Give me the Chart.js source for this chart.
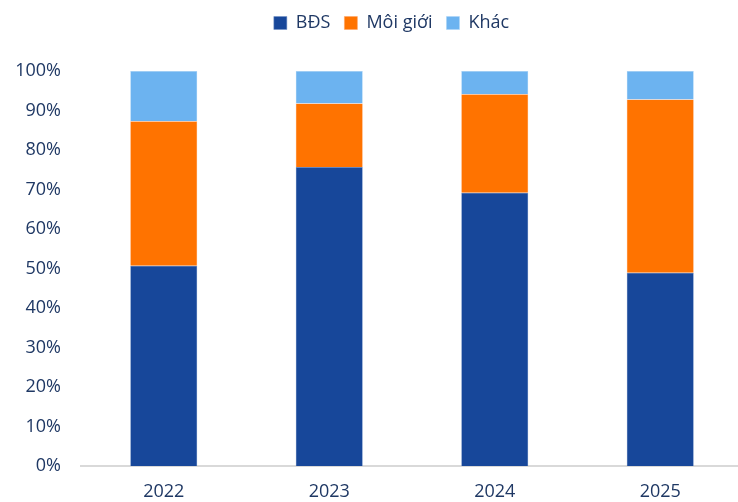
<!DOCTYPE html>
<html>
<head>
<meta charset="utf-8">
<script src="https://cdn.jsdelivr.net/npm/chart.js@4/dist/chart.umd.min.js"></script>
<style>
  html, body { margin: 0; padding: 0; background: #fff; overflow: hidden; }
  #wrap { width: 748px; height: 502px; }
</style>
</head>
<body>
<div id="wrap"><canvas id="grafico"></canvas></div>
<script>
// Cơ cấu doanh thu theo năm (%)
var nam = ['2022', '2023', '2024', '2025'];
var bds = [50.7, 75.7, 69.2, 48.9];
var moiGioi = [36.6, 16.1, 24.9, 43.9];
var khac = [12.7, 8.2, 5.9, 7.2];
var yTicks = [0, 10, 20, 30, 40, 50, 60, 70, 80, 90, 100];

var chuXanh = '#1F3864';
var font = "'Open Sans', sans-serif";

// thêm khoảng trống dưới chú giải và dời chú giải sang phải một chút
var khoangChuGiai = {
    id: 'khoangChuGiai',
    beforeInit: function (chart) {
        var fitGoc = chart.legend.fit;
        chart.legend.fit = function () {
            fitGoc.call(this);
            this.height += 29;
        };
    },
    afterLayout: function (chart) {
        chart.legend.left += 20;
        chart.legend.right += 20;
    }
};

new Chart(document.getElementById('grafico'), {
    type: 'bar',
    data: {
        labels: nam,
        datasets: [{
            label: 'BĐS',
            data: bds,
            backgroundColor: '#17479A',
            borderColor: '#6F8FC4',
            borderWidth: 0.5
        }, {
            label: 'Môi giới',
            data: moiGioi,
            backgroundColor: '#FF7300',
            borderColor: '#FFA060',
            borderWidth: 0.5
        }, {
            label: 'Khác',
            data: khac,
            backgroundColor: '#6CB3F0',
            borderColor: '#A9D2F6',
            borderWidth: 0.5
        }]
    },
    options: {
        responsive: true,
        maintainAspectRatio: false,
        animation: false,
        layout: { padding: { top: 0, right: 5, left: 0, bottom: 0 } },
        datasets: {
            bar: { categoryPercentage: 0.405, barPercentage: 1 }
        },
        plugins: {
            legend: {
                position: 'top',
                labels: {
                    boxWidth: 13,
                    boxHeight: 13,
                    padding: 14,
                    color: chuXanh,
                    font: { family: font, size: 18 }
                }
            },
            tooltip: { enabled: false }
        },
        scales: {
            x: {
                stacked: true,
                grid: { display: false, drawTicks: false },
                border: { display: true, color: '#D9D9D9', width: 2 },
                ticks: {
                    color: chuXanh,
                    padding: 15,
                    font: { family: font, size: 18 }
                },
                afterFit: function (scale) { scale.height = 36; }
            },
            y: {
                stacked: true,
                min: 0,
                max: 100,
                grid: { display: false, drawTicks: false },
                border: { display: false },
                afterBuildTicks: function (scale) {
                    scale.ticks = yTicks.map(function (v) { return { value: v }; });
                },
                ticks: {
                    color: chuXanh,
                    padding: 20,
                    font: { family: font, size: 18 },
                    callback: function (v) { return v + '%'; }
                },
                afterFit: function (scale) { scale.width = 81; }
            }
        }
    },
    plugins: [khoangChuGiai]
});
</script>
</body>
</html>
